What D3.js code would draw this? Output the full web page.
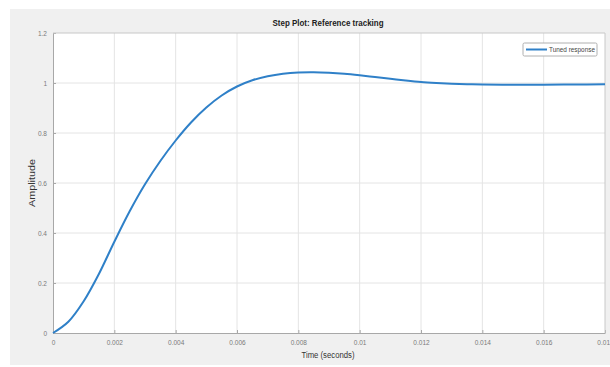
<!DOCTYPE html>
<html>
<head>
<meta charset="utf-8">
<script src="https://cdn.jsdelivr.net/npm/d3@7"></script>
<style>
  body { margin: 0; background: #fff; }
  svg { display: block; font-family: "Liberation Sans Narrow", "Arial Narrow", "Liberation Sans", sans-serif; }
  .tick text { fill: #7a7a7a; font-size: 6.5px; }
</style>
</head>
<body>
<svg id="chart" width="610" height="367"></svg>
<script>
// step response
let time = [0, 0.0005, 0.001, 0.0015, 0.002, 0.0025, 0.003, 0.0035, 0.004, 0.0045,
            0.005, 0.0055, 0.006, 0.0065, 0.007, 0.0075, 0.008, 0.0085, 0.009, 0.0095,
            0.01, 0.0105, 0.011, 0.0115, 0.012, 0.0125, 0.013, 0.0135, 0.014, 0.015,
            0.016, 0.017, 0.018]
let amplitude = [0, 0.045, 0.127, 0.237, 0.365, 0.487, 0.595, 0.688, 0.77, 0.842,
                 0.902, 0.95, 0.986, 1.011, 1.027, 1.037, 1.042, 1.043, 1.041, 1.037,
                 1.031, 1.024, 1.017, 1.01, 1.004, 1.0, 0.997, 0.995, 0.994, 0.993,
                 0.993, 0.994, 0.995]
let x_ticks = [0, 0.002, 0.004, 0.006, 0.008, 0.01, 0.012, 0.014, 0.016, 0.018]
let y_ticks = [0, 0.2, 0.4, 0.6, 0.8, 1, 1.2]
let series_name = "Tuned response"

let width = 610,
    height = 367,
    margins = {top: 33, bottom: 34, left: 53, right: 5}

let svg = d3.select("#chart")

// grey figure panel
svg.append("rect")
  .attr("x", 10).attr("y", 9)
  .attr("width", 600).attr("height", 356)
  .attr("fill", "#f0f0f0")

let x = d3.scaleLinear()
  .domain([0, 0.018])
  .range([margins.left, width - margins.right])
let y = d3.scaleLinear()
  .domain([0, 1.2])
  .range([height - margins.bottom, margins.top])

// plot area
svg.append("rect")
  .attr("x", x(0)).attr("y", y(1.2))
  .attr("width", x(0.018) - x(0)).attr("height", y(0) - y(1.2))
  .attr("fill", "#fff")

// grid
let grid = svg.append("g")
grid.selectAll(".vx").data(x_ticks.slice(1, -1)).enter()
  .append("line")
  .attr("x1", d => x(d)).attr("x2", d => x(d))
  .attr("y1", y(0)).attr("y2", y(1.2))
  .attr("stroke", "#e4e4e4").attr("stroke-width", 1)
grid.selectAll(".hy").data(y_ticks.slice(1, -1)).enter()
  .append("line")
  .attr("x1", x(0)).attr("x2", x(0.018))
  .attr("y1", d => y(d)).attr("y2", d => y(d))
  .attr("stroke", "#e4e4e4").attr("stroke-width", 1)

// axes
let x_axis = d3.axisBottom(x)
  .tickValues(x_ticks)
  .tickFormat(d3.format("~g"))
  .tickSizeInner(-3).tickSizeOuter(0).tickPadding(7)
let y_axis = d3.axisLeft(y)
  .tickValues(y_ticks)
  .tickFormat(d3.format("~g"))
  .tickSizeInner(-3).tickSizeOuter(0).tickPadding(6)

svg.append("g")
  .attr("transform", `translate(0,${y(0)})`)
  .call(x_axis)
svg.append("g")
  .attr("transform", `translate(${x(0)},0)`)
  .call(y_axis)
svg.selectAll(".domain").attr("stroke", "#a8a8a8")
svg.selectAll(".tick line").attr("stroke", "#a8a8a8")

// top and right box edges
svg.append("line")
  .attr("x1", x(0)).attr("x2", x(0.018))
  .attr("y1", y(1.2)).attr("y2", y(1.2))
  .attr("stroke", "#c8c8c8")
svg.append("line")
  .attr("x1", x(0.018)).attr("x2", x(0.018))
  .attr("y1", y(1.2)).attr("y2", y(0))
  .attr("stroke", "#c8c8c8")

// response line
let data = time.map((t, i) => ({t: t, a: amplitude[i]}))
let path_generator = d3.line()
  .x(d => x(d.t))
  .y(d => y(d.a))
  .curve(d3.curveCatmullRom.alpha(0.5))
svg.append("path")
  .datum(data)
  .attr("d", path_generator)
  .attr("fill", "none")
  .attr("stroke", "#2f80c8")
  .attr("stroke-width", 2)

// title and labels
svg.append("text")
  .attr("x", 328).attr("y", 26)
  .attr("text-anchor", "middle")
  .attr("font-size", 9).attr("font-weight", "bold")
  .attr("textLength", 111).attr("lengthAdjust", "spacingAndGlyphs")
  .attr("fill", "#222")
  .text("Step Plot: Reference tracking")
svg.append("text")
  .attr("x", 328).attr("y", 358)
  .attr("text-anchor", "middle")
  .attr("font-size", 8.5)
  .attr("textLength", 53).attr("lengthAdjust", "spacingAndGlyphs")
  .attr("fill", "#333")
  .text("Time (seconds)")
svg.append("text")
  .attr("transform", `translate(35,${y(0.6)}) rotate(-90)`)
  .attr("text-anchor", "middle")
  .attr("font-size", 8.5)
  .attr("textLength", 48).attr("lengthAdjust", "spacingAndGlyphs")
  .attr("fill", "#333")
  .text("Amplitude")

// legend
let legend = svg.append("g").attr("transform", "translate(523,43)")
legend.append("rect")
  .attr("width", 74).attr("height", 13).attr("rx", 1.5)
  .attr("fill", "#fff").attr("stroke", "#b0b0b0")
legend.append("line")
  .attr("x1", 3).attr("x2", 24).attr("y1", 6.5).attr("y2", 6.5)
  .attr("stroke", "#2f80c8").attr("stroke-width", 2)
legend.append("text")
  .attr("x", 26).attr("y", 9)
  .attr("font-size", 6.5).attr("fill", "#444")
  .attr("textLength", 46).attr("lengthAdjust", "spacingAndGlyphs")
  .text(series_name)
</script>
</body>
</html>
